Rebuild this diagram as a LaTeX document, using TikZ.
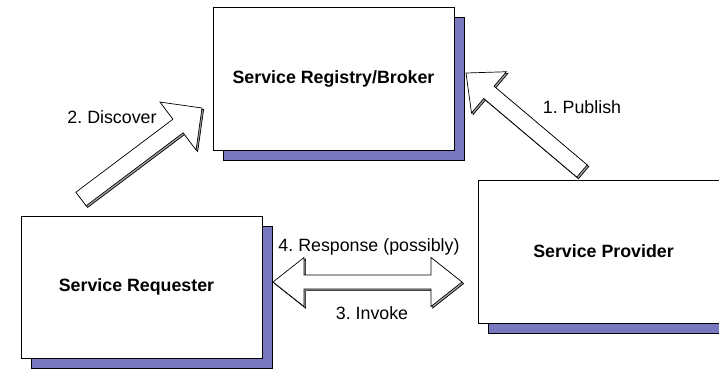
\documentclass[tikz,border=0pt]{standalone}
\usepackage{fontspec}
\setmainfont{Liberation Sans}
\setsansfont{Liberation Sans}
\usetikzlibrary{calc,shadows}
\frenchspacing
\definecolor{regshadow}{RGB}{120,120,190}
\definecolor{arrshade}{RGB}{165,165,165}
\tikzset{
  svcbox/.style={draw=black, line width=0.8pt, fill=white, inner sep=0pt,
    font=\fontsize{17.8}{20}\selectfont\bfseries,
    drop shadow={shadow xshift=10pt, shadow yshift=-10pt, fill=regshadow, draw=black, line width=0.8pt, opacity=1}},
  lbl/.style={inner sep=0pt, font=\fontsize{17.8}{20}\selectfont\frenchspacing},
  arrowbody/.style={draw=black, line width=0.7pt, fill=white, line join=miter},
  arrowshade/.style={draw=black, line width=0.7pt, fill=arrshade, line join=miter}
}
% single block arrow: #1 tail, #2 tip, #3 shaft half width, #4 head half width, #5 head length, #6 style
\newcommand\arrowpoly[6]{%
  \coordinate (tmpH) at ($(#2)!#5!(#1)$);
  \draw[#6] ($(#1)!#3!90:(#2)$) -- ($(tmpH)!#3!90:(#2)$) -- ($(tmpH)!#4!90:(#2)$)
    -- (#2) -- ($(tmpH)!#4!-90:(#2)$) -- ($(tmpH)!#3!-90:(#2)$) -- ($(#1)!#3!-90:(#2)$) -- cycle;
}
% double block arrow: #1 left tip, #2 right tip, #3 shaft half width, #4 head half width, #5 head length, #6 style
\newcommand\dblarrowpoly[6]{%
  \coordinate (tmpL) at ($(#1)!#5!(#2)$);
  \coordinate (tmpR) at ($(#2)!#5!(#1)$);
  \draw[#6] (#1) -- ($(tmpL)!#4!90:(#2)$) -- ($(tmpL)!#3!90:(#2)$) -- ($(tmpR)!#3!-90:(#1)$)
    -- ($(tmpR)!#4!-90:(#1)$) -- (#2) -- ($(tmpR)!#4!90:(#1)$) -- ($(tmpR)!#3!90:(#1)$)
    -- ($(tmpL)!#3!-90:(#2)$) -- ($(tmpL)!#4!-90:(#2)$) -- cycle;
}
\begin{document}
\begin{tikzpicture}[x=1pt,y=-1pt]
\useasboundingbox (0,0) rectangle (719,372);
\clip (0,0) rectangle (719,372);

% boxes
\node[svcbox, minimum width=241pt, minimum height=143pt] (reg) at (333.5,78.5) {Service Registry/Broker};
\node[svcbox, minimum width=241pt, minimum height=142pt] (req) at (141.5,287) {\raisebox{-3pt}{Service Requester\hspace*{10pt}}};
\node[svcbox, minimum width=251pt, minimum height=143pt] (prov) at (603.5,251.5) {\raisebox{-2pt}{Service Provider}};

% Discover arrow
\coordinate (dT) at (81,199);
\coordinate (dP) at (202,108);
\coordinate (dTs) at ($(dT)+(1.6,1.6)$);
\coordinate (dPs) at ($(dP)+(1.6,1.6)$);
\arrowpoly{dTs}{dPs}{8.5pt}{30pt}{30pt}{arrowshade}
\arrowpoly{dT}{dP}{8.5pt}{30pt}{30pt}{arrowbody}

% Publish arrow
\coordinate (pT) at (582,171);
\coordinate (pP) at (466,73);
\coordinate (pTs) at ($(pT)+(1.6,1.6)$);
\coordinate (pPs) at ($(pP)+(1.6,1.6)$);
\arrowpoly{pTs}{pPs}{8pt}{27pt}{30pt}{arrowshade}
\arrowpoly{pT}{pP}{8pt}{27pt}{30pt}{arrowbody}

% Invoke / Response double arrow
\coordinate (iL) at (273,282);
\coordinate (iR) at (462,282);
\coordinate (iLs) at ($(iL)+(1.6,1.6)$);
\coordinate (iRs) at ($(iR)+(1.6,1.6)$);
\dblarrowpoly{iLs}{iRs}{7pt}{24.5pt}{31pt}{arrowshade}
\dblarrowpoly{iL}{iR}{7pt}{24.5pt}{31pt}{arrowbody}

% labels
\node[lbl] (disc) at (112,117) {2. Discover};
\node[lbl] (pub) at (582,107) {1. Publish};
\node[lbl] (resp) at (369,247) {4. Response (possibly)};
\node[lbl] (inv) at (372,313) {3. Invoke};
\end{tikzpicture}
\end{document}
